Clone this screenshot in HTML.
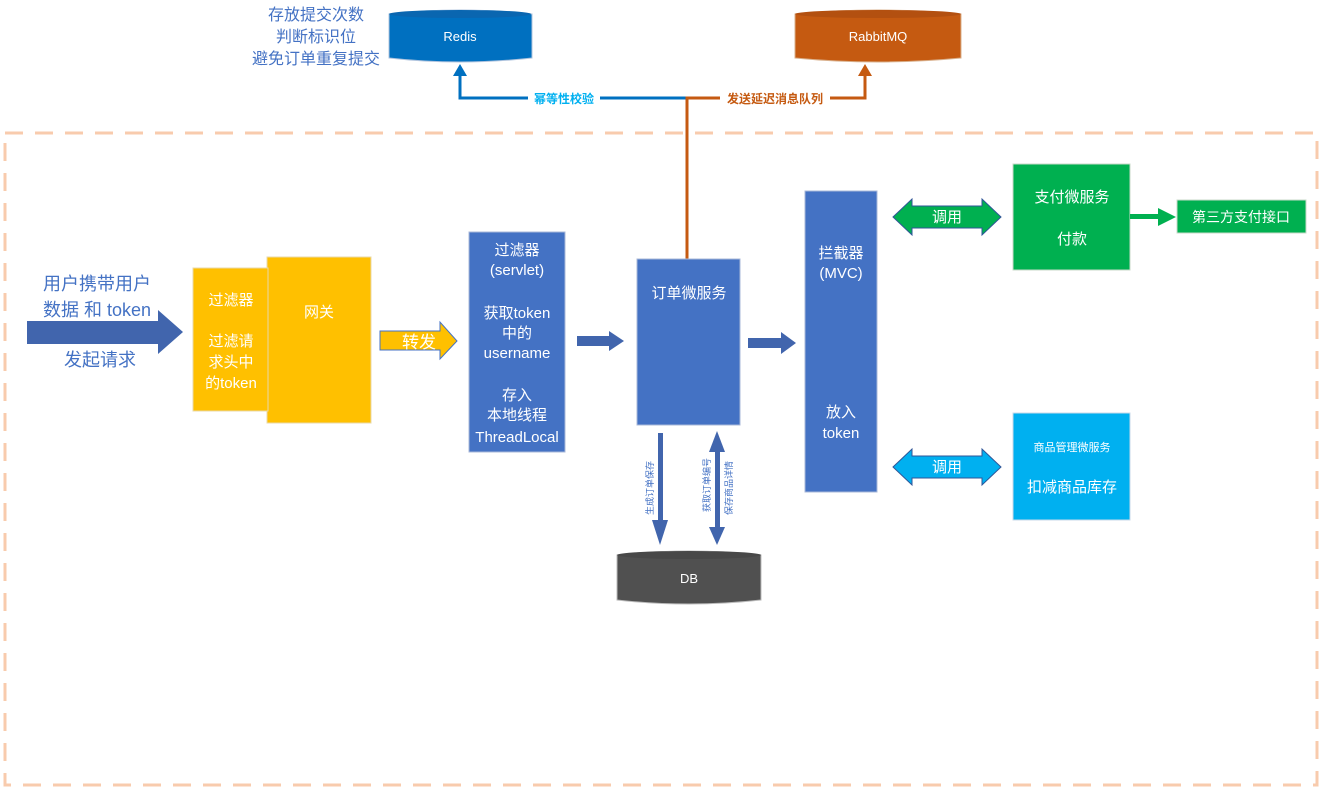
<!DOCTYPE html>
<html><head><meta charset="utf-8"><style>
html,body{margin:0;padding:0;background:#fff;width:1322px;height:790px;overflow:hidden}
svg{display:block}
text{font-family:"Liberation Sans","Noto Sans CJK SC",sans-serif}
</style></head><body>
<svg width="1322" height="790" viewBox="0 0 1322 790" xmlns="http://www.w3.org/2000/svg">
<rect x="5" y="133" width="1312" height="652" fill="none" stroke="#f8cbad" stroke-width="3" stroke-dasharray="18,12"/>
<!-- Redis -->
<path d="M389,14 Q460,6 532,14 L532,58 Q460,66 389,58 Z" fill="#0070c0" stroke="#b0c4de"/>
<ellipse cx="460" cy="14" rx="71" ry="4" fill="#0a66b0"/>
<text x="460" y="41" fill="#fff" font-size="13" text-anchor="middle">Redis</text>
<!-- RabbitMQ -->
<path d="M795,14 Q878,6 961,14 L961,58 Q878,66 795,58 Z" fill="#c55a11" stroke="#d9b08c"/>
<ellipse cx="878" cy="14" rx="83" ry="4" fill="#b35010"/>
<text x="878" y="41" fill="#fff" font-size="13" text-anchor="middle">RabbitMQ</text>
<g fill="#4472c4" font-size="16" text-anchor="middle">
<text x="316" y="20">存放提交次数</text><text x="316" y="42">判断标识位</text><text x="316" y="64">避免订单重复提交</text></g>
<!-- connectors top -->
<polyline points="687,98 460,98 460,74" fill="none" stroke="#0070c0" stroke-width="3"/>
<polygon points="453,76 460,64 467,76" fill="#0070c0"/>
<rect x="528" y="91" width="72" height="14" fill="#fff"/>
<text x="564" y="103" fill="#00b0f0" font-size="12" font-weight="bold" text-anchor="middle">幂等性校验</text>
<polyline points="687,259 687,98 865,98 865,74" fill="none" stroke="#c55a11" stroke-width="3"/>
<polygon points="858,76 865,64 872,76" fill="#c55a11"/>
<rect x="720" y="91" width="110" height="14" fill="#fff"/>
<text x="775" y="103" fill="#c55a11" font-size="12" font-weight="bold" text-anchor="middle">发送延迟消息队列</text>
<!-- big user arrow -->
<polygon points="27,321 158,321 158,310 183,332 158,354 158,344 27,344" fill="#4165ad"/>
<g fill="#4472c4" font-size="18" text-anchor="middle">
<text x="97" y="290">用户携带用户</text><text x="97" y="316">数据 和 token</text><text x="100" y="366">发起请求</text></g>
<!-- filter + gateway -->
<rect x="267" y="257" width="104" height="166" fill="#ffc000" stroke="#e8d9a8"/>
<rect x="193" y="268" width="75" height="143" fill="#ffc000" stroke="#e8d9a8"/>
<g fill="#fff" font-size="15" text-anchor="middle">
<text x="231" y="305">过滤器</text><text x="231" y="346">过滤请</text><text x="231" y="367">求头中</text><text x="231" y="388">的token</text>
<text x="319" y="317">网关</text></g>
<!-- 转发 -->
<polygon points="380,331 440,331 440,322 457,341 440,359 440,350 380,350" fill="#ffc000" stroke="#4472c4" stroke-width="1"/>
<text x="419" y="348" fill="#fff" font-size="17" text-anchor="middle">转发</text>
<!-- servlet -->
<rect x="469" y="232" width="96" height="220" fill="#4472c4" stroke="#a9b8d8"/>
<g fill="#fff" font-size="15" text-anchor="middle">
<text x="517" y="255">过滤器</text><text x="517" y="275">(servlet)</text>
<text x="517" y="318">获取token</text><text x="517" y="338">中的</text><text x="517" y="358">username</text>
<text x="517" y="400">存入</text><text x="517" y="420">本地线程</text><text x="517" y="442">ThreadLocal</text></g>
<polygon points="577,336 609,336 609,331 624,341 609,351 609,346 577,346" fill="#4165ad"/>
<!-- order service -->
<rect x="637" y="259" width="103" height="166" fill="#4472c4" stroke="#a9b8d8"/>
<text x="689" y="298" fill="#fff" font-size="15" text-anchor="middle">订单微服务</text>
<polygon points="748,338 781,338 781,332 796,343 781,354 781,348 748,348" fill="#4165ad"/>
<!-- interceptor -->
<rect x="805" y="191" width="72" height="301" fill="#4472c4" stroke="#a9b8d8"/>
<g fill="#fff" font-size="15" text-anchor="middle">
<text x="841" y="258">拦截器</text><text x="841" y="278">(MVC)</text><text x="841" y="417">放入</text><text x="841" y="438">token</text></g>
<!-- green double arrow -->
<polygon points="893,217 912,199 912,206 982,206 982,199 1001,217 982,235 982,228 912,228 912,235" fill="#00b050" stroke="#2f5597"/>
<text x="947" y="222" fill="#fff" font-size="15" text-anchor="middle">调用</text>
<rect x="1013" y="164" width="117" height="106" fill="#00b050" stroke="#c9d9c9"/>
<text x="1072" y="202" fill="#fff" font-size="15" text-anchor="middle">支付微服务</text>
<text x="1072" y="244" fill="#fff" font-size="15" text-anchor="middle">付款</text>
<rect x="1130" y="214" width="30" height="5" fill="#00b050"/>
<polygon points="1158,208 1176,217 1158,226" fill="#00b050"/>
<rect x="1177" y="200" width="129" height="33" fill="#00b050" stroke="#c9d9c9"/>
<text x="1241" y="222" fill="#fff" font-size="14" text-anchor="middle">第三方支付接口</text>
<!-- blue double arrow -->
<polygon points="893,467 912,449 912,456 982,456 982,449 1001,467 982,485 982,478 912,478 912,485" fill="#00b0f0" stroke="#2f5597"/>
<text x="947" y="472" fill="#fff" font-size="15" text-anchor="middle">调用</text>
<rect x="1013" y="413" width="117" height="107" fill="#00b0f0" stroke="#c9d9e9"/>
<text x="1072" y="451" fill="#fff" font-size="11" text-anchor="middle">商品管理微服务</text>
<text x="1072" y="492" fill="#fff" font-size="15" text-anchor="middle">扣减商品库存</text>
<!-- DB arrows -->
<rect x="658" y="433" width="5" height="90" fill="#4165ad"/>
<polygon points="652,520 660,545 668,520" fill="#4165ad"/>
<rect x="715" y="450" width="5" height="80" fill="#4165ad"/>
<polygon points="709,452 717,431 725,452" fill="#4165ad"/>
<polygon points="709,527 717,545 725,527" fill="#4165ad"/>
<g fill="#4472c4" font-size="9" text-anchor="middle">
<text transform="translate(653,488) rotate(-90)">生成订单保存</text>
<text transform="translate(710,485) rotate(-90)">获取订单编号</text>
<text transform="translate(732,488) rotate(-90)">保存商品详情</text></g>
<!-- DB -->
<path d="M617,555 Q689,547 761,555 L761,600 Q689,608 617,600 Z" fill="#505050" stroke="#bbb"/>
<ellipse cx="689" cy="555" rx="72" ry="4" fill="#484848"/>
<text x="689" y="583" fill="#fff" font-size="13" text-anchor="middle">DB</text>
</svg>
</body></html>
